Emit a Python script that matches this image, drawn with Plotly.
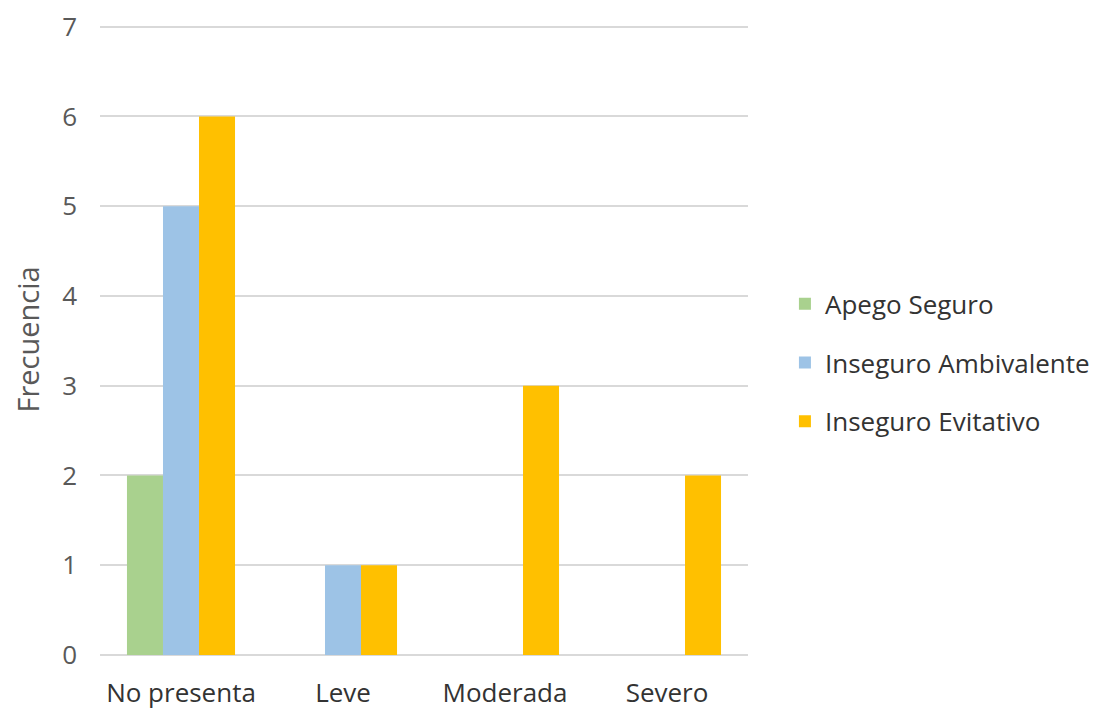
import plotly.graph_objects as go

categories = ["No presenta", "Leve", "Moderada", "Severo"]
apego_seguro = [2, 0, 0, 0]
inseguro_ambivalente = [5, 1, 0, 0]
inseguro_evitativo = [6, 1, 3, 2]
series_names = ["Apego Seguro", "Inseguro Ambivalente", "Inseguro Evitativo"]
colors = ["#A9D18E", "#9DC3E6", "#FFC000"]
y_ticks = [0, 1, 2, 3, 4, 5, 6, 7]

FONT = "Open Sans, Liberation Sans, sans-serif"

fig = go.Figure()
for i, (name, vals) in enumerate(zip(series_names, [apego_seguro, inseguro_ambivalente, inseguro_evitativo])):
    fig.add_trace(go.Bar(x=categories, y=vals, name=name, marker=dict(color=colors[i], line=dict(width=0)),
                         legendgroup=f"g{i}"))

fig.update_layout(
    width=1112, height=709,
    margin=dict(l=92, r=372, t=16, b=62, autoexpand=False),
    paper_bgcolor="white", plot_bgcolor="white",
    barmode="group", bargap=0.333, bargroupgap=0,
    font=dict(family=FONT, size=26, color="#595959"),
    legend=dict(x=1.057, y=0.463, xanchor="left", yanchor="middle",
                font=dict(size=26, color="#333333"), tracegroupgap=22,
                itemwidth=30),
    showlegend=True,
)
fig.update_xaxes(showgrid=False, showline=False, ticks="", ticklabelstandoff=20, automargin=False,
                 tickfont=dict(size=26, color="#333333"))
fig.update_yaxes(range=[0, 7.03], tickvals=y_ticks, showgrid=True, gridcolor="#D9D9D9", gridwidth=2,
                 zeroline=True, zerolinecolor="#D9D9D9", zerolinewidth=2, automargin=False,
                 ticks="", ticklabelstandoff=22, ticklabeloverflow="allow",
                 tickfont=dict(size=26, color="#595959"),
                 title=dict(text="Frecuencia", font=dict(size=29, color="#595959"), standoff=27))

fig.write_html("out.html")
